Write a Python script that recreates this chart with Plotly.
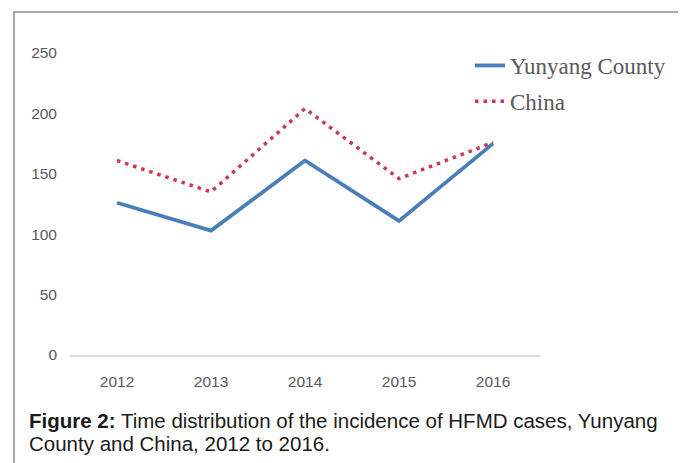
import plotly.graph_objects as go

years = ["2012", "2013", "2014", "2015", "2016"]
yunyang = [126, 103, 161, 111, 175]
china = [161, 135, 204, 146, 176]
y_ticks = [0, 50, 100, 150, 200, 250]

W, H = 686, 463
OFF = 8  # page body margin
L, T = 62, 45
pw = 470
ph = 302
R = W - L - pw
B = H - T - ph

def px(sx):
    return (sx - OFF - L) / pw

def py(sy):
    return (T + ph - (sy - OFF)) / ph

tick_font = dict(family="Liberation Sans", size=15.5, color="#595959")

fig = go.Figure()
fig.add_trace(go.Scatter(x=years, y=yunyang, mode="lines", name="Yunyang County",
                         line=dict(color="#4a7ebb", width=3.8), legendgroup="a"))
fig.add_trace(go.Scatter(x=years, y=china, mode="lines", name="China",
                         line=dict(color="#c63a52", width=3.5, dash="3.5px,5px"), legendgroup="b"))

fig.update_layout(
    width=W, height=H,
    margin=dict(l=L, r=R, t=T, b=B),
    paper_bgcolor="white", plot_bgcolor="white",
    showlegend=True,
    legend=dict(x=px(470), y=py(44), xanchor="left", yanchor="top",
                font=dict(family="Liberation Serif", size=23, color="#595959"),
                tracegroupgap=3, bgcolor="rgba(0,0,0,0)"),
    xaxis=dict(type="category", categoryorder="array", categoryarray=years,
               range=[-0.5, 4.5], showgrid=False, showline=True,
               linecolor="#d9d9d9", linewidth=1.5, zeroline=False,
               ticks="", ticklabelstandoff=12, tickfont=tick_font),
    yaxis=dict(range=[0, 250], tickvals=y_ticks, showgrid=False, showline=False,
               zeroline=False, ticks="", ticklabelstandoff=12, tickfont=tick_font),
    shapes=[dict(type="rect", xref="paper", yref="paper",
                 x0=px(14), x1=px(681), y0=py(490), y1=py(12),
                 line=dict(color="#8c8c8c", width=1.5), fillcolor="rgba(0,0,0,0)", layer="below")],
    annotations=[
        dict(xref="paper", yref="paper", x=px(27), y=py(420),
             xanchor="left", yanchor="middle", align="left", showarrow=False,
             text="<b>Figure 2:</b> Time distribution of the incidence of HFMD cases, Yunyang",
             font=dict(family="Liberation Sans", size=20.5, color="#1a1a1a")),
        dict(xref="paper", yref="paper", x=px(27), y=py(443),
             xanchor="left", yanchor="middle", align="left", showarrow=False,
             text="County and China, 2012 to 2016.",
             font=dict(family="Liberation Sans", size=20.5, color="#1a1a1a")),
    ],
)

fig.write_html("out.html")
